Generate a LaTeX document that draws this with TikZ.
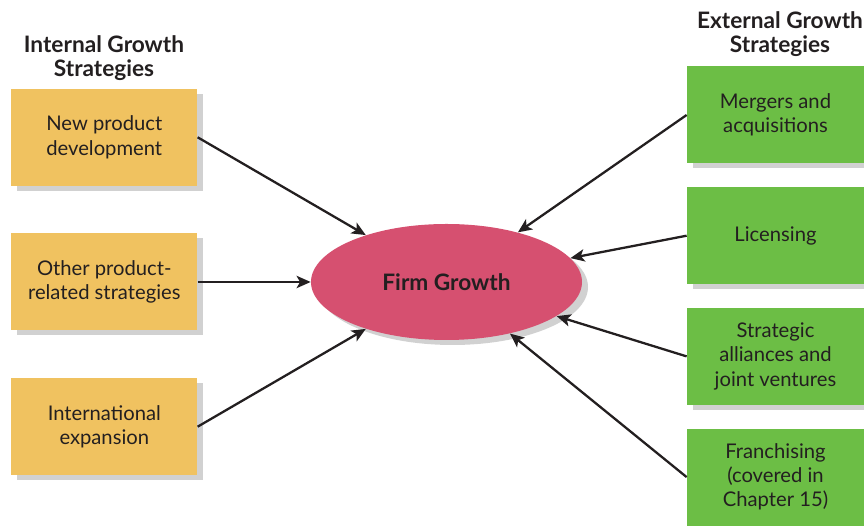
\documentclass[tikz,border=0pt]{standalone}
\usepackage{fontspec}
\setmainfont{Lato}
\usepackage{xcolor}
\usepackage{tikz}
\usetikzlibrary{arrows.meta, positioning, shapes.geometric, shadows}

\definecolor{boxyellow}{RGB}{240,194,96}
\definecolor{boxgreen}{RGB}{108,190,69}
\definecolor{firmpink}{RGB}{214,80,112}
\definecolor{inkgray}{RGB}{35,31,32}
\newcommand{\stratfont}{\fontsize{11.5}{13.7}\selectfont}
\newcommand{\headfont}{\fontsize{12.9}{13.7}\selectfont\bfseries}

\begin{document}
\begin{tikzpicture}[
  softshadow/.style={drop shadow={shadow xshift=0.12cm, shadow yshift=-0.1cm, opacity=0.18, fill=black}},
  internal/.style={rectangle, fill=boxyellow, minimum width=3.72cm, minimum height=1.94cm, inner sep=0pt, align=center, font=\stratfont, text=inkgray, softshadow},
  external/.style={rectangle, fill=boxgreen, minimum width=3.54cm, minimum height=1.94cm, inner sep=0pt, align=center, font=\stratfont, text=inkgray, softshadow},
  heading/.style={align=center, font=\headfont, text=inkgray},
  feed/.style={-{Stealth[length=8pt, width=7pt, inset=2pt]}, line width=1.3pt, draw=inkgray}
]
  \useasboundingbox (0,0) rectangle (17.28,-10.52);

  \node[ellipse, fill=firmpink, minimum width=5.42cm, minimum height=2.32cm, inner sep=0pt,
        font=\headfont, text=inkgray, softshadow] (firm) at (8.93,-5.64) {Firm Growth};

  % internal side
  \node[internal, left=2.26cm of firm] (other) {Other product-\\related strategies};
  \node[internal, above=0.94cm of other] (npd) {New product\\development};
  \node[internal, below=0.94cm of other] (intl) {International\\expansion};
  \node[heading] (inhead) at (2.08,-1.16) {Internal Growth\\Strategies};

  % external side
  \node[external] (merge) at (15.51,-2.30) {Mergers and\\acquisitions};
  \node[external, below=0.46cm of merge] (license) {Licensing};
  \node[external, below=0.46cm of license] (alliance) {Strategic\\alliances and\\joint ventures};
  \node[external, below=0.46cm of alliance] (franchise) {Franchising\\(covered in\\Chapter 15)};
  \node[heading] (exhead) at (15.6,-0.68) {External Growth\\Strategies};

  \draw[feed] (npd.east) -- (firm);
  \draw[feed] (other.east) -- (firm);
  \draw[feed] (intl.east) -- (firm);
  \draw[feed] (merge.west) -- (firm);
  \draw[feed] (license.west) -- (firm);
  \draw[feed] (alliance.west) -- (firm);
  \draw[feed] (franchise.west) -- (firm);
\end{tikzpicture}
\end{document}
